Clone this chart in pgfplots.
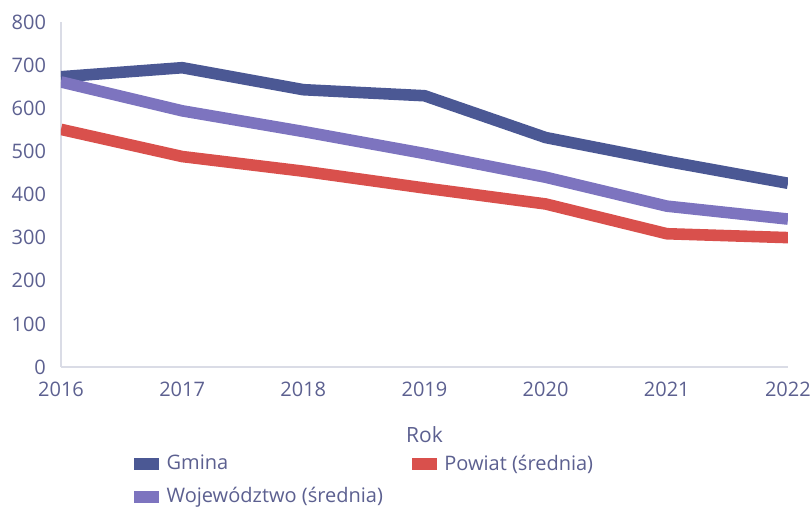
\documentclass[border=0pt]{standalone}
\usepackage{pgfplots}
\pgfplotsset{compat=1.18}
\usepackage{fontspec}
\setmainfont{Open Sans}
\definecolor{gmina}{HTML}{4B5894}
\definecolor{woj}{HTML}{7D74BF}
\definecolor{pow}{HTML}{D9504C}
\definecolor{txt}{HTML}{5C6090}
\definecolor{axl}{HTML}{DADCE6}
\begin{document}
\begin{tikzpicture}
\path[use as bounding box] (0,0) rectangle (405.5pt,258.5pt);
\begin{axis}[
  at={(30.5pt,75pt)}, anchor=south west,
  scale only axis, width=363.5pt, height=172.5pt,
  xmin=2016, xmax=2022, ymin=0, ymax=800,
  xtick={2016,...,2022}, ytick={0,100,...,800},
  axis x line=bottom, axis y line=left,
  axis line style={axl, line width=0.6pt, -},
  major tick length=0pt,
  x tick label style={/pgf/number format/1000 sep={}, yshift=-4pt},
  y tick label style={xshift=-4pt},
  /pgf/number format/assume math mode=true,
  tick label style={font=\fontsize{10}{12}\selectfont, text=txt},
  xlabel={Rok}, xlabel style={font=\fontsize{10.5}{12}\selectfont, text=txt, yshift=-8pt},
  legend columns=2,
  legend cell align=left,
  legend style={at={(0.084,-0.238)}, anchor=north west, draw=none, fill=none,
    font=\fontsize{10}{12}\selectfont, text=txt,
    nodes={inner sep=0.6pt},
    /tikz/every even column/.append style={column sep=11pt},
    row sep=6pt},
  legend image code/.code={\draw[#1, line width=6pt, line cap=butt] (0pt,0pt) -- (12.5pt,0pt);},
  every axis plot/.append style={line width=5.8pt, line join=round},
]
\addplot[color=gmina] coordinates {(2016,673) (2017,694) (2018,643) (2019,629) (2020,532) (2021,477) (2022,426)};
\addlegendentry{Gmina}
\addplot[color=pow] coordinates {(2016,551) (2017,488) (2018,454) (2019,415) (2020,378) (2021,309) (2022,300)};
\addlegendentry{Powiat (średnia)}
\addplot[color=woj] coordinates {(2016,661) (2017,594) (2018,546) (2019,495) (2020,440) (2021,373) (2022,343)};
\addlegendentry{Województwo (średnia)}
\end{axis}
\end{tikzpicture}
\end{document}
